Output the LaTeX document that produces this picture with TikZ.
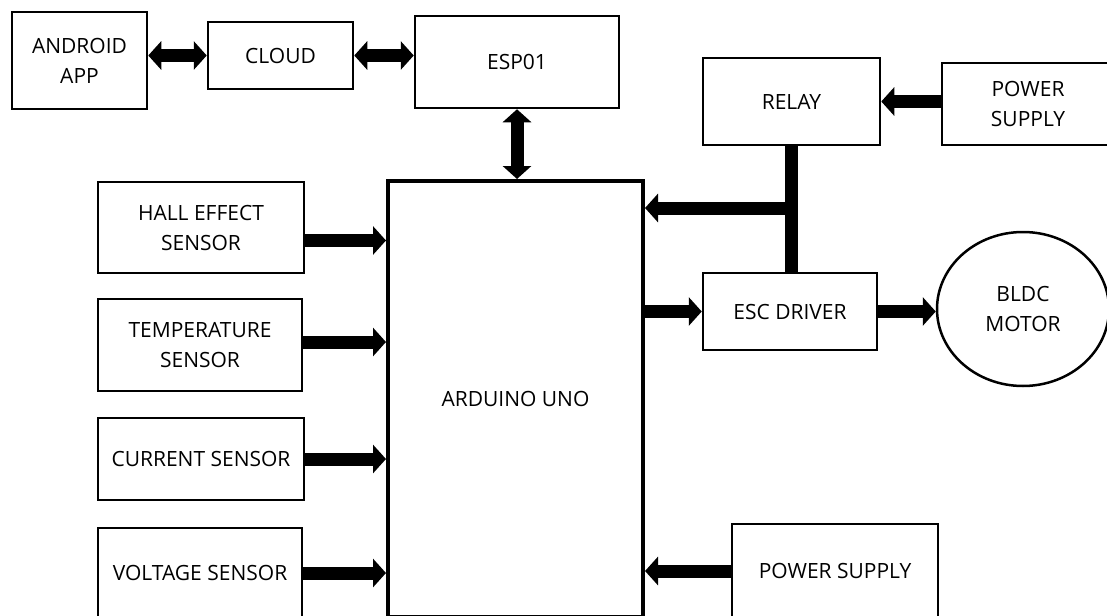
\documentclass[tikz,border=0pt]{standalone}
\usepackage{fontspec}
\setmainfont{Open Sans}
\usepackage{tikz}
\usetikzlibrary{arrows.meta,shapes.geometric}
\tikzset{
  >={Triangle[length=13pt,width=28pt]},
  blk/.style={draw=black,fill=white,line width=2.5pt,align=center,
    font=\fontsize{21}{30}\selectfont,inner sep=0pt},
  blkb/.style={blk,line width=4pt},
  motor/.style={blk,ellipse,minimum width=172pt,minimum height=154pt},
  bus/.style={->,draw=black,line width=13pt},
  busd/.style={bus,<->},
  bar/.style={draw=black,line width=13pt},
}

\begin{document}
\begin{tikzpicture}[x=1pt,y=-1pt]
  \clip (0,0) rectangle (1107,615);
  % cloud link
  \node[blk,minimum width=135pt,minimum height=97pt] (app) at (79.5,60.5) {ANDROID\\APP};
  \node[blk,minimum width=145pt,minimum height=67pt] (cloud) at (280.5,55.5) {CLOUD};
  \node[blk,minimum width=204pt,minimum height=92pt] (esp) at (517,62) {ESP01};
  \node[blkb,minimum width=255pt,minimum height=436pt] (uno) at (515.5,399) {ARDUINO UNO};
  % sensors
  \node[blk,minimum width=206pt,minimum height=91pt] (hall) at (201,227.5) {HALL EFFECT\\SENSOR};
  \node[blk,minimum width=204pt,minimum height=92pt] (temp) at (200,345) {TEMPERATURE\\SENSOR};
  \node[blk,minimum width=206pt,minimum height=82pt] (curr) at (201,459) {CURRENT SENSOR};
  \node[blk,minimum width=204pt,minimum height=90pt] (volt) at (200,573) {VOLTAGE SENSOR};
  % drive side
  \node[blk,minimum width=177pt,minimum height=87pt] (relay) at (791.5,101.5) {RELAY};
  \node[blk,minimum width=172pt,minimum height=82pt] (psrelay) at (1028,104) {POWER\\SUPPLY};
  \node[blk,minimum width=174pt,minimum height=77pt] (esc) at (790,311.5) {ESC DRIVER};
  \node[motor] (bldc) at (1023,309) {BLDC\\MOTOR};
  \node[blk,minimum width=206pt,minimum height=94pt] (psuno) at (835,571) {POWER SUPPLY};
  \draw[busd] (app.east|-cloud.west) -- (cloud.west);
  \draw[busd] (cloud.east) -- (cloud.east-|esp.west);
  \draw[busd] (esp.south) -- (esp.south|-uno.north);
  \draw[bus] ([yshift=-13pt]hall.east) -- ([yshift=-13pt]hall.east-|uno.west);
  \draw[bus] ([yshift=3pt]temp.east) -- ([yshift=3pt]temp.east-|uno.west);
  \draw[bus] (curr.east) -- (curr.east-|uno.west);
  \draw[bus] (volt.east) -- (volt.east-|uno.west);
  \draw[bus] (psrelay.west|-relay.east) -- (relay.east);
  \draw[bar] (relay.south) -- (relay.south|-esc.north);
  \coordinate (tap) at (791.5,208);
  \draw[bus] (tap) -- (tap-|uno.east);
  \draw[bus] (uno.east|-esc.west) -- (esc.west);
  \draw[bus] (esc.east) -- (esc.east-|bldc.west);
  \draw[bus] (psuno.west) -- (psuno.west-|uno.east);
\end{tikzpicture}
\end{document}
